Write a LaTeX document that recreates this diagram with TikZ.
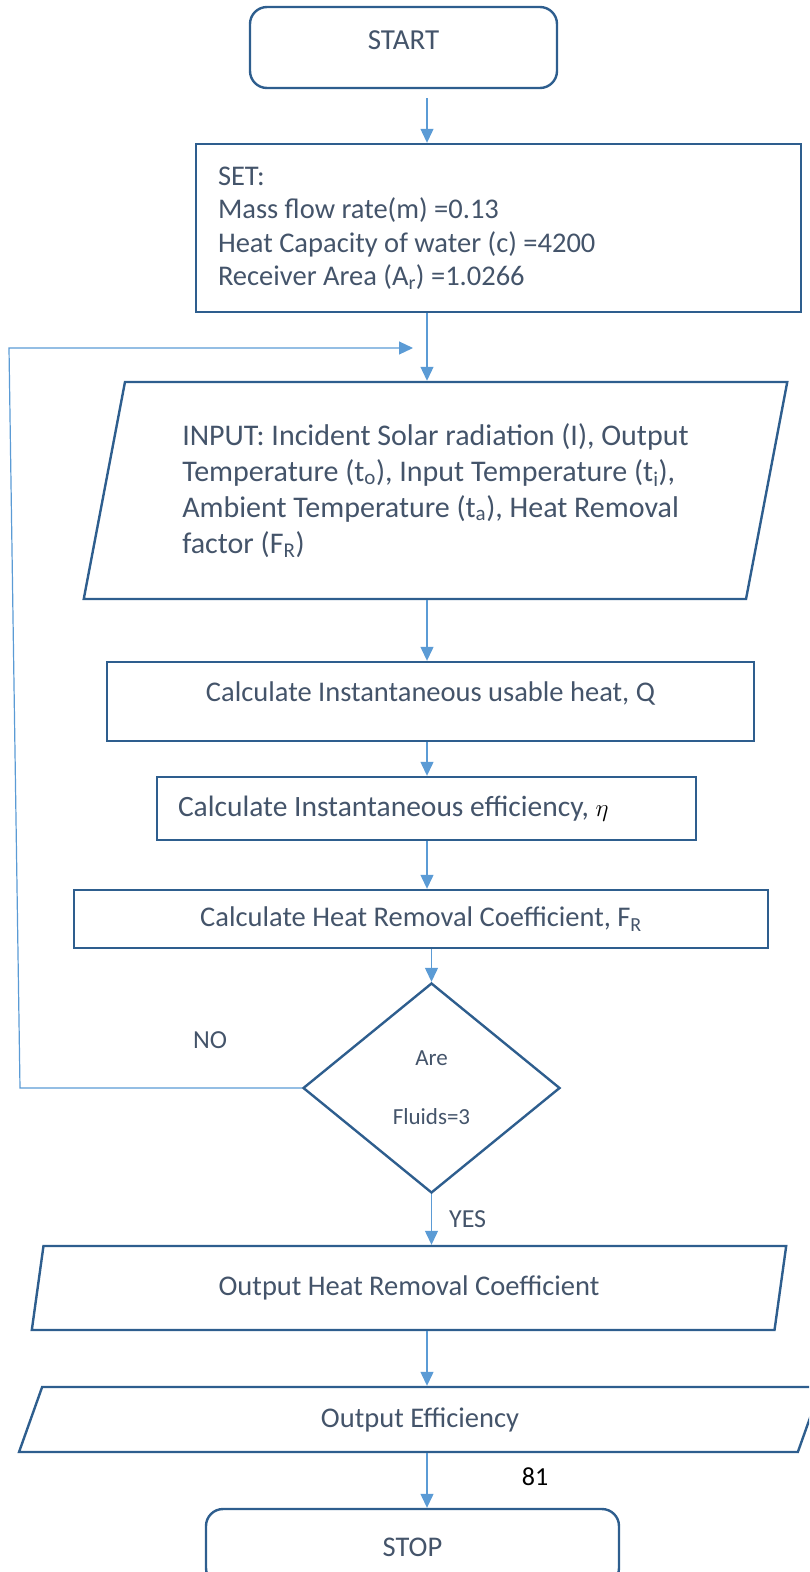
\documentclass[tikz,border=0pt]{standalone}
\usepackage{fontspec}
\setmainfont{Carlito}
\usepackage{tikz}
\usetikzlibrary{arrows.meta, positioning, calc, shapes}
\definecolor{boxline}{HTML}{2E5E8E}
\definecolor{flowline}{HTML}{5B9BD5}
\definecolor{txt}{HTML}{44546A}

\begin{document}
\begin{tikzpicture}[
    x=1pt, y=-1pt,
    every node/.style={text=txt, font=\fontsize{28.5}{34}\selectfont, inner sep=0pt},
    term/.style={draw=boxline, line width=2.4pt, rounded corners=17pt, align=center},
    procbox/.style={draw=boxline, line width=2.4pt, align=center},
    iobox/.style={draw=boxline, line width=2.4pt, trapezium, trapezium left angle=76, trapezium right angle=104, trapezium stretches=true, align=flush left},
    decision/.style={draw=boxline, line width=2.4pt, diamond, align=center, font=\fontsize{23}{30}\selectfont},
    flow/.style={draw=flowline, line width=1.2pt, -{Triangle[length=14pt,width=13pt]}},
    lbl/.style={font=\fontsize{26}{30}\selectfont}
]
    \useasboundingbox (0,0) rectangle (809,1572);
    \clip (0,0) rectangle (809,1572);

    \node[term, minimum width=307pt, minimum height=81pt, font=\fontsize{29}{34}\selectfont, text height=18.5pt, text depth=14.5pt] (start) at (403.5,47.5) {START};
    \node[procbox, minimum width=605pt, minimum height=168pt, text width=561pt, align=flush left, font=\fontsize{28.5}{33.5}\selectfont] (set) at (498.5,228)
        {SET:\\Mass flow rate(m) =0.13\\Heat Capacity of water (c) =4200\\Receiver Area (A\textsubscript{r}) =1.0266};
    \node[iobox, minimum width=705pt, minimum height=217pt, font=\fontsize{30}{36}\selectfont] (inp) at (435.5,490.5)
        {INPUT: Incident Solar radiation (I), Output\\Temperature (t\textsubscript{o}), Input Temperature (t\textsubscript{i}),\\Ambient Temperature (t\textsubscript{a}), Heat Removal\\factor (F\textsubscript{R})};
    \node[procbox, minimum width=647pt, minimum height=79pt, text height=21pt, text depth=22pt] (heat) at (430.5,701.5) {Calculate Instantaneous usable heat, Q};
    \node[procbox, minimum width=539pt, minimum height=63pt, text width=497pt, align=flush left, font=\fontsize{29.5}{34}\selectfont] (eff) at (426.5,808.5)
        {Calculate Instantaneous efficiency, {\color{black}\fontsize{34}{34}\selectfont$\eta$}};
    \node[procbox, minimum width=694pt, minimum height=58pt] (coef) at (421,919) {Calculate Heat Removal Coefficient, F\textsubscript{R}};
    \node[decision, minimum width=257pt, minimum height=210pt] (dia) at (431.5,1088) {Are\\[29pt]Fluids=3};
    \node[iobox, minimum width=758pt, minimum height=84pt, align=center] (outcoef) at (409,1288) {Output Heat Removal Coefficient};
    \node[iobox, minimum width=804pt, minimum height=65pt, align=center] (outeff) at (420,1419.5) {Output Efficiency};
    \node[term, minimum width=413pt, minimum height=76pt] (stop) at (412.5,1547) {STOP};

    \node[lbl] (no) at (210,1040) {NO};
    \node[lbl, text=black] (page) at (535,1477) {81};

    \coordinate (spine) at (427,0);
    \coordinate (nocorner) at (20,1088);
    \coordinate (loopcorner) at (9,348);
    \coordinate (loopend) at (413,348);

    \draw[flow, shorten <=9pt] (start.south -| spine) -- (set.north -| spine);
    \draw[flow] (set.south -| spine) -- (inp.north -| spine);
    \draw[flow] (inp.south -| spine) -- (heat.north -| spine);
    \draw[flow] (heat.south -| spine) -- (eff.north -| spine);
    \draw[flow] (eff.south -| spine) -- (coef.north -| spine);
    \draw[flow] (coef.south -| dia.north) -- (dia.north);
    \draw[flow] (dia.south) -- (outcoef.north -| dia.south) node[lbl, midway, right=17pt] (yes) {YES};
    \draw[flow] (outcoef.south -| spine) -- (outeff.north -| spine);
    \draw[flow] (outeff.south -| spine) -- (stop.north -| spine);
    \draw[flow] (dia.west) -- (nocorner) -- (loopcorner) -- (loopend);
\end{tikzpicture}
\end{document}
